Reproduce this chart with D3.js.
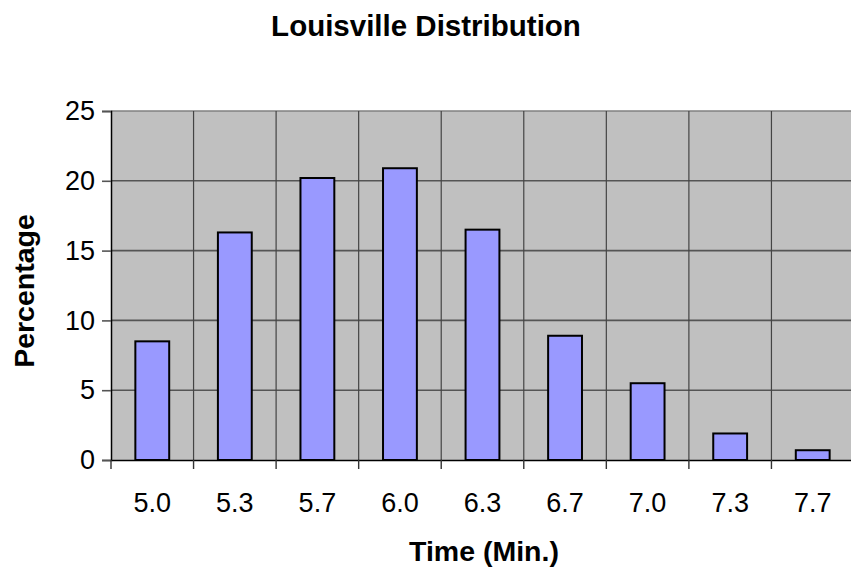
<!DOCTYPE html>
<html>
<head>
<meta charset="utf-8">
<script src="https://cdn.jsdelivr.net/npm/d3@7"></script>
<style>
  html, body { margin: 0; padding: 0; background: #fff; }
  svg { display: block; font-family: "Liberation Sans", Arial, sans-serif; }
</style>
</head>
<body>
<svg id="chart" width="851" height="575"></svg>
<script>
// Percentage of runs per finishing time
const categories = ["5.0", "5.3", "5.7", "6.0", "6.3", "6.7", "7.0", "7.3", "7.7"];
const percentages = [8.5, 16.3, 20.2, 20.9, 16.5, 8.9, 5.5, 1.9, 0.7];
const yTicks = [0, 5, 10, 15, 20, 25];

const svg = d3.select("#chart");
const plot = { left: 111, top: 111, right: 854, bottom: 460 };
const fontFamily = "'Liberation Sans', Arial, sans-serif";

const x = d3.scaleBand().domain(categories).range([plot.left, plot.right]).paddingInner(0).paddingOuter(0);
const y = d3.scaleLinear().domain([0, 25]).range([plot.bottom, plot.top]);

// plot background
svg.append("rect")
  .attr("x", plot.left).attr("y", plot.top)
  .attr("width", plot.right - plot.left).attr("height", plot.bottom - plot.top)
  .attr("fill", "#c0c0c0");

// horizontal gridlines
svg.append("g").selectAll("line").data(yTicks.slice(1)).join("line")
  .attr("x1", plot.left).attr("x2", plot.right)
  .attr("y1", d => y(d)).attr("y2", d => y(d))
  .attr("stroke", d => d === 25 ? "#808080" : "#555")
  .attr("stroke-width", 1.6);

// vertical category dividers
svg.append("g").selectAll("line").data(categories.slice(1)).join("line")
  .attr("x1", d => x(d)).attr("x2", d => x(d))
  .attr("y1", plot.top).attr("y2", plot.bottom)
  .attr("stroke", "#444").attr("stroke-width", 1.2);

// bars
const barW = x.bandwidth() * 0.41;
svg.append("g").selectAll("rect").data(categories).join("rect")
  .attr("x", (d) => x(d) + (x.bandwidth() - barW) / 2)
  .attr("y", (d, i) => y(percentages[i]))
  .attr("width", barW)
  .attr("height", (d, i) => y(0) - y(percentages[i]))
  .attr("fill", "#9999ff")
  .attr("stroke", "#000").attr("stroke-width", 2);

// y axis
const yAxis = d3.axisLeft(y).tickValues(yTicks).tickSize(9).tickPadding(7).tickFormat(d3.format("d"));
const gy = svg.append("g").attr("transform", `translate(${plot.left},0)`).call(yAxis);
gy.select(".domain").attr("stroke", "#000").attr("stroke-width", 1.5);
gy.selectAll(".tick line").attr("stroke", "#555").attr("stroke-width", 1.6);
gy.selectAll(".tick text").attr("font-size", 27).attr("fill", "#000")
  .attr("x", -16).attr("font-family", fontFamily);

// x axis
const xAxis = d3.axisBottom(x).tickSize(0).tickPadding(0);
const gx = svg.append("g").attr("transform", `translate(0,${plot.bottom})`).call(xAxis);
gx.select(".domain").attr("stroke", "#000").attr("stroke-width", 1.5);
gx.selectAll(".tick text").attr("font-size", 27).attr("fill", "#000").attr("dy", "0")
  .attr("y", 52).attr("font-family", fontFamily);

// x tick marks at category boundaries
svg.append("g").selectAll("line").data(categories).join("line")
  .attr("x1", d => x(d)).attr("x2", d => x(d))
  .attr("y1", plot.bottom).attr("y2", plot.bottom + 9)
  .attr("stroke", "#333").attr("stroke-width", 1.4);

// titles
svg.append("text").attr("x", 426).attr("y", 36).attr("text-anchor", "middle")
  .attr("font-size", 29.5).attr("font-weight", "bold").text("Louisville Distribution");
svg.append("text").attr("x", 484).attr("y", 561).attr("text-anchor", "middle")
  .attr("font-size", 28.5).attr("font-weight", "bold").text("Time (Min.)");
svg.append("text").attr("transform", "translate(34,291) rotate(-90)").attr("text-anchor", "middle")
  .attr("font-size", 28.5).attr("font-weight", "bold").text("Percentage");
</script>
</body>
</html>
